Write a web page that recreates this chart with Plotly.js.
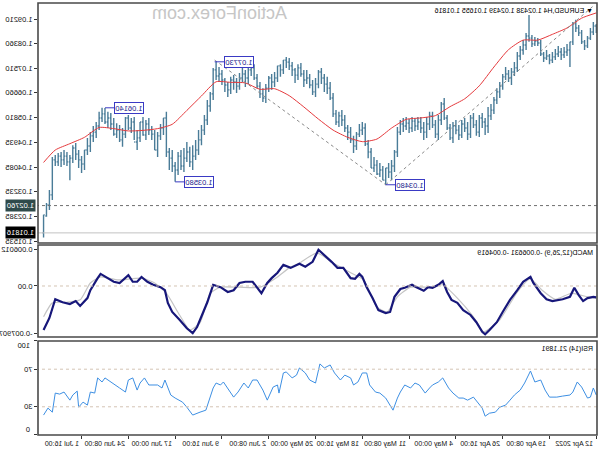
<!DOCTYPE html>
<html><head><meta charset="utf-8">
<script src="https://cdn.plot.ly/plotly-3.0.1.min.js"></script>
<style>html,body{margin:0;padding:0;background:#fff;overflow:hidden}
#wrap{width:600px;height:450px;transform:scaleX(-1);transform-origin:50% 50%}</style>
</head><body><div id="wrap"><div id="chart" style="width:600px;height:450px"></div></div>
<script>
// ---- EURUSD H4 bars (one entry per 2 H4 bars, oldest first) ----
const open = [
1.0883,1.0897,1.0876,1.0855,1.0828,1.0842,1.0873,1.0890,1.0904,1.0842,
1.0814,1.0807,1.0797,1.0807,1.0800,1.0790,1.0779,1.0793,1.0786,1.0800,
1.0838,1.0845,1.0835,1.0855,1.0862,1.0831,1.0814,1.0793,1.0752,1.0738,
1.0717,1.0731,1.0721,1.0689,1.0669,1.0641,1.0606,1.0586,1.0551,1.0565,
1.0579,1.0530,1.0555,1.0579,1.0523,1.0544,1.0558,1.0520,1.0537,1.0551,
1.0510,1.0544,1.0579,1.0627,1.0572,1.0523,1.0555,1.0586,1.0558,1.0530,
1.0544,1.0565,1.0551,1.0568,1.0544,1.0561,1.0551,1.0558,1.0530,1.0461,
1.0413,1.0392,1.0406,1.0364,1.0399,1.0385,1.0416,1.0406,1.0461,1.0489,
1.0544,1.0537,1.0523,1.0482,1.0503,1.0530,1.0544,1.0572,1.0586,1.0565,
1.0593,1.0648,1.0682,1.0696,1.0717,1.0738,1.0696,1.0669,1.0693,1.0717,
1.0710,1.0731,1.0752,1.0727,1.0745,1.0759,1.0772,1.0779,1.0745,1.0759,
1.0717,1.0703,1.0717,1.0682,1.0648,1.0662,1.0689,1.0717,1.0752,1.0745,
1.0717,1.0731,1.0717,1.0689,1.0703,1.0710,1.0676,1.0693,1.0710,1.0731,
1.0724,1.0745,1.0662,1.0620,1.0572,1.0537,1.0503,1.0468,1.0447,1.0427,
1.0461,1.0440,1.0413,1.0447,1.0399,1.0413,1.0440,1.0461,1.0579,1.0544,
1.0517,1.0468,1.0523,1.0537,1.0558,1.0520,1.0565,1.0510,1.0496,1.0565,
1.0544,1.0579,1.0523,1.0503,1.0537,1.0523,1.0558,1.0579,1.0565,1.0593,
1.0579,1.0551,1.0530,1.0517,1.0482,1.0468,1.0420,1.0434,1.0454,1.0475,
1.0440,1.0427,1.0447,1.0434,1.0447,1.0427,1.0434,1.0313,1.0278,1.02438];
const high = [
1.0904,1.0911,1.0890,1.0862,1.0848,1.0883,1.0900,1.0918,1.0911,1.0842,
1.0835,1.0824,1.0821,1.0828,1.0817,1.0807,1.0800,1.0814,1.0807,1.0848,
1.0855,1.0859,1.0866,1.0935,1.0873,1.0848,1.0828,1.0807,1.0772,1.0752,
1.0745,1.0755,1.0731,1.0703,1.0682,1.0651,1.0627,1.0617,1.0579,1.0596,
1.0589,1.0572,1.0596,1.0589,1.0565,1.0579,1.0572,1.0555,1.0572,1.0565,
1.0558,1.0589,1.0648,1.0634,1.0589,1.0572,1.0600,1.0600,1.0582,1.0565,
1.0582,1.0582,1.0579,1.0582,1.0575,1.0582,1.0579,1.0572,1.0548,1.0468,
1.0434,1.0423,1.0406,1.0413,1.0423,1.0434,1.0444,1.0475,1.0503,1.0561,
1.0565,1.0558,1.0530,1.0517,1.0548,1.0555,1.0589,1.0606,1.0600,1.0606,
1.0665,1.0703,1.0721,1.0731,1.0752,1.0745,1.0717,1.0710,1.0731,1.0745,
1.0745,1.0769,1.0765,1.0752,1.0772,1.0786,1.0790,1.0779,1.0765,1.0759,
1.0738,1.0731,1.0724,1.0696,1.0682,1.0703,1.0731,1.0765,1.0769,1.0752,
1.0745,1.0752,1.0734,1.0717,1.0727,1.0721,1.0703,1.0717,1.0745,1.0755,
1.0773,1.0752,1.0669,1.0641,1.0589,1.0555,1.0537,1.0503,1.0485,1.0479,
1.0496,1.0475,1.0468,1.0461,1.0427,1.0468,1.0475,1.0600,1.0579,1.0558,
1.0530,1.0537,1.0551,1.0579,1.0572,1.0582,1.0565,1.0537,1.0582,1.0579,
1.0589,1.0582,1.0544,1.0555,1.0561,1.0579,1.0596,1.0600,1.0613,1.0614,
1.0600,1.0565,1.0551,1.0530,1.0510,1.0468,1.0447,1.0468,1.0492,1.0485,
1.0451,1.0461,1.0468,1.0461,1.0458,1.0451,1.0444,1.0330,1.0285,1.02439];
const low = [
1.0873,1.0866,1.0848,1.0821,1.0814,1.0835,1.0862,1.0876,1.0831,1.0755,
1.0793,1.0786,1.0779,1.0790,1.0779,1.0769,1.0765,1.0779,1.0772,1.0793,
1.0828,1.0828,1.0824,1.0842,1.0814,1.0797,1.0779,1.0738,1.0724,1.0693,
1.0703,1.0710,1.0676,1.0648,1.0627,1.0593,1.0572,1.0527,1.0520,1.0544,
1.0513,1.0517,1.0544,1.0510,1.0503,1.0530,1.0510,1.0503,1.0523,1.0492,
1.0503,1.0537,1.0572,1.0555,1.0503,1.0510,1.0544,1.0537,1.0510,1.0503,
1.0527,1.0537,1.0534,1.0530,1.0527,1.0537,1.0530,1.0520,1.0444,1.0392,
1.0364,1.0371,1.0348,1.0364,1.0375,1.0382,1.0392,1.0406,1.0440,1.0482,
1.0520,1.0513,1.0468,1.0458,1.0492,1.0503,1.0530,1.0551,1.0548,1.0555,
1.0582,1.0641,1.0662,1.0669,1.0696,1.0682,1.0651,1.0658,1.0682,1.0696,
1.0686,1.0721,1.0710,1.0700,1.0724,1.0745,1.0752,1.0731,1.0721,1.0703,
1.0686,1.0676,1.0669,1.0631,1.0634,1.0648,1.0682,1.0710,1.0724,1.0696,
1.0686,1.0703,1.0676,1.0665,1.0676,1.0662,1.0651,1.0669,1.0693,1.0703,
1.0710,1.0641,1.0600,1.0555,1.0520,1.0485,1.0451,1.0434,1.0399,1.0409,
1.0427,1.0392,1.0399,1.0382,1.0358,1.0392,1.0399,1.0444,1.0520,1.0503,
1.0444,1.0468,1.0503,1.0520,1.0503,1.0517,1.0496,1.0468,1.0503,1.0527,
1.0537,1.0510,1.0479,1.0496,1.0510,1.0517,1.0537,1.0544,1.0558,1.0565,
1.0537,1.0510,1.0496,1.0461,1.0451,1.0399,1.0389,1.0406,1.0434,1.0423,
1.0364,1.0413,1.0416,1.0409,1.0413,1.0413,1.0295,1.0261,1.0237,1.01655];
const close = [
1.0897,1.0876,1.0855,1.0828,1.0842,1.0873,1.0890,1.0904,1.0842,1.0814,
1.0807,1.0797,1.0807,1.0800,1.0790,1.0779,1.0793,1.0786,1.0800,1.0838,
1.0845,1.0835,1.0855,1.0862,1.0831,1.0814,1.0793,1.0752,1.0738,1.0717,
1.0731,1.0721,1.0689,1.0669,1.0641,1.0606,1.0586,1.0551,1.0565,1.0579,
1.0530,1.0555,1.0579,1.0523,1.0544,1.0558,1.0520,1.0537,1.0551,1.0510,
1.0544,1.0579,1.0627,1.0572,1.0523,1.0555,1.0586,1.0558,1.0530,1.0544,
1.0565,1.0551,1.0568,1.0544,1.0561,1.0551,1.0558,1.0530,1.0461,1.0413,
1.0392,1.0406,1.0364,1.0399,1.0385,1.0416,1.0406,1.0461,1.0489,1.0544,
1.0537,1.0523,1.0482,1.0503,1.0530,1.0544,1.0572,1.0586,1.0565,1.0593,
1.0648,1.0682,1.0696,1.0717,1.0738,1.0696,1.0669,1.0693,1.0717,1.0710,
1.0731,1.0752,1.0727,1.0745,1.0759,1.0772,1.0779,1.0745,1.0759,1.0717,
1.0703,1.0717,1.0682,1.0648,1.0662,1.0689,1.0717,1.0752,1.0745,1.0717,
1.0731,1.0717,1.0689,1.0703,1.0710,1.0676,1.0693,1.0710,1.0731,1.0724,
1.0745,1.0662,1.0620,1.0572,1.0537,1.0503,1.0468,1.0447,1.0427,1.0461,
1.0440,1.0413,1.0447,1.0399,1.0413,1.0440,1.0461,1.0579,1.0544,1.0517,
1.0468,1.0523,1.0537,1.0558,1.0520,1.0565,1.0510,1.0496,1.0565,1.0544,
1.0579,1.0523,1.0503,1.0537,1.0523,1.0558,1.0579,1.0565,1.0593,1.0579,
1.0551,1.0530,1.0517,1.0482,1.0468,1.0420,1.0434,1.0454,1.0475,1.0440,
1.0427,1.0447,1.0434,1.0447,1.0427,1.0434,1.0313,1.0278,1.0240,1.01816];

// moving average (red)
const maBar = [0,10,20,30,40,50,60,70,80,90,100,110,120,130,140,150,160,170,180,190,200,210,220,230,240,250,260,270,280,290,300,310,320,330,340,350,360,370,378];
const maVal = [1.0942,1.0924,1.0890,1.0868,1.0848,1.0848,1.0815,1.0755,1.0690,1.0645,1.0618,1.0587,1.0579,1.0574,1.0544,1.0506,1.0497,1.0512,1.0537,1.0575,1.0617,1.0656,1.0680,1.0678,1.0700,1.0702,1.0704,1.0655,1.0605,1.0557,1.0542,1.0536,1.0534,1.0542,1.0546,1.0512,1.0490,1.0468,1.0425];

// trend lines
const trend1Bar = [261,144], trend1Price = [1.0779,1.0348];
const trend2Bar = [144,2],   trend2Price = [1.0348,1.0966];

// swing labels
const swingText  = ['1.07730','1.06140','1.03580','1.03480'];
const swingBar   = [261,336,288,144];
const swingPrice = [1.0773,1.0614,1.0358,1.0348];

// horizontal level
const levelPrice = 1.02760;

// MACD(12,26,9)
const macdBar = [0,2,6,9,12,15,18,23,30,34,38,43,45,50,54,59,64,68,73,76,78,82,86,91,95,99,102,105,108,112,115,118,123,126,131,134,138,141,144,149,153,157,160,162,165,168,173,177,181,186,190,194,199,203,205,209,214,218,222,225,229,232,235,240,244,248,252,257,262,266,270,273,276,280,285,290,293,295,298,303,307,311,314,317,320,324,326,330,335,339,341,346,348,353,356,360,365,370,374,378];
const macdMain = [-0.0019,-0.0018,-0.0020,-0.0025,-0.0015,-0.0003,-0.0018,-0.0022,-0.0025,-0.0022,-0.0012,0.0005,0.0015,0.0007,-0.0007,-0.0023,-0.0043,-0.0060,-0.0073,-0.0080,-0.0076,-0.0060,-0.0048,-0.0040,-0.0028,-0.0023,-0.0010,0.0008,0.0002,-0.0003,-0.0002,-0.0008,-0.0002,0.0002,-0.0003,-0.0005,-0.0018,-0.0043,-0.0045,-0.0040,-0.0020,-0.0002,0.0015,0.0020,0.0012,0.0013,0.0030,0.0030,0.0040,0.0051,0.0060,0.0040,0.0032,0.0037,0.0035,0.0030,0.0035,0.0022,0.0013,0.0005,-0.0012,-0.0003,0.0007,0.0007,0.0005,-0.0007,-0.0010,-0.0002,0.0002,-0.0027,-0.0051,-0.0068,-0.0078,-0.0070,-0.0056,-0.0043,-0.0028,-0.0007,-0.0002,0.0002,0.0007,0.0015,0.0007,0.0007,0.0018,0.0010,0.0005,0.0007,0.0015,0.0020,0.0013,-0.0007,-0.0020,-0.0033,-0.0025,-0.0030,-0.0027,-0.0022,-0.0053,-0.0073];
const sigBar = [0,6,17,28,37,45,54,66,77,84,95,105,112,127,136,143,150,159,168,180,191,203,210,218,230,244,257,264,271,278,285,294,302,311,327,339,346,353,362,372,378];
const sigVal = [-0.0020,-0.0018,-0.0012,-0.0022,-0.0007,0.0012,-0.0010,-0.0056,-0.0076,-0.0051,-0.0020,0.0002,-0.0002,-0.0002,-0.0018,-0.0043,-0.0035,0.0010,0.0022,0.0038,0.0055,0.0038,0.0030,0.0015,-0.0002,-0.0002,-0.0002,-0.0012,-0.0061,-0.0073,-0.0048,-0.0012,0.0005,0.0013,0.0010,0.0015,0.0005,-0.0023,-0.0027,-0.0028,-0.0051];
const macdHeader = ['-0.006631','-0.004619'];

// RSI(14)
const rsiBar = [0,2,4,6,10,13,16,18,23,27,32,35,38,42,45,49,52,56,59,62,66,69,73,76,78,82,84,88,91,94,98,101,105,108,112,114,117,121,124,127,131,134,136,139,141,144,148,151,155,157,160,163,166,168,172,175,179,182,186,189,192,196,199,203,205,208,212,214,217,218,221,225,228,232,235,238,241,245,248,252,255,257,260,262,265,267,271,276,280,283,288,291,295,297,300,306,309,312,314,317,320,322,326,329,332,336,338,341,343,346,348,351,354,355,358,360,364,367,370,372,375,378];
const rsiVal = [42.5,50,40.3,39.3,51,56.4,45.7,42.5,41.4,40.3,40.3,47.8,58.5,56.4,68.1,55.3,47.8,42.5,37.1,31.8,29.6,24.3,23.2,20,28.6,37.1,40.3,37.1,39.3,39.3,44.6,50,60.7,56.4,53.2,50,44.6,53.2,55.3,50,53.2,45.7,39.3,26.4,31.8,39.3,44.6,45.7,53.2,66,66,56.4,53.2,60.7,63.7,58.5,66,74.5,71.3,75.6,55.3,58.5,66,71.3,63.7,60.7,67.1,66,44.6,53.2,51,37.1,47.8,58.5,58.5,50,55.3,45.7,40.3,50,56.4,53.2,55.3,50,37.1,26.4,24.3,21.2,29.6,35,39.3,42.5,58.5,50,53.2,53.2,60.7,55.3,47.8,60.7,58.5,45.7,50,53.2,56.4,60.7,56.4,60.7,44.6,45.7,31.8,35,29.6,46.7,42.5,37.1,45.7,43.5,44.6,24.3,28.6,21.2];
const rsiHeader = '21.1891';

// axis ticks
const timeBars = [0,32,64,96,128,160,192,224,256,288,320,352];
const timeLabels = ['12 Apr 2022','19 Apr 08:00','26 Apr 16:00','4 May 00:00','11 May 08:00','18 May 16:00','26 May 00:00','2 Jun 08:00','9 Jun 16:00','17 Jun 00:00','24 Jun 08:00','1 Jul 16:00'];
const priceTicks = [1.09210,1.08360,1.07510,1.06660,1.05810,1.04935,1.04085,1.03235,1.02385,1.01535];
const macdTicks = [0.006012,0,-0.007907];
const macdTickText = ['0.006012','0.00','-0.007907'];
const rsiTicks = [100,70,30,0];

// ---------------- drawing ----------------
const barIdx = open.map((_, i) => i * 2);
const last = open.length - 1;
const BAR = '#4a7c98';
const FONT = '"Liberation Sans", Arial, "DejaVu Sans", sans-serif';

const traces = [
  {type:'ohlc', x:barIdx, open:open, high:high, low:low, close:close, xaxis:'x', yaxis:'y',
   increasing:{line:{color:BAR, width:1.4}}, decreasing:{line:{color:BAR, width:1.4}},
   tickwidth:0.4, hoverinfo:'skip'},
  {type:'scatter', mode:'lines', x:maBar, y:maVal, xaxis:'x', yaxis:'y',
   line:{color:'#e5393c', width:1, shape:'spline', smoothing:0.6}, hoverinfo:'skip'},
  {type:'scatter', mode:'lines', x:trend1Bar, y:trend1Price, xaxis:'x', yaxis:'y',
   line:{color:'#8a8a8a', width:1, dash:'3px,3px'}, hoverinfo:'skip'},
  {type:'scatter', mode:'lines', x:trend2Bar, y:trend2Price, xaxis:'x', yaxis:'y',
   line:{color:'#8a8a8a', width:1, dash:'3px,3px'}, hoverinfo:'skip'},
  {type:'scatter', mode:'lines', x:sigBar, y:sigVal, xaxis:'x', yaxis:'y2',
   line:{color:'#c4c4c4', width:1.2, shape:'spline', smoothing:0.5}, hoverinfo:'skip'},
  {type:'scatter', mode:'lines', x:macdBar, y:macdMain, xaxis:'x', yaxis:'y2',
   line:{color:'#17177a', width:2.2}, hoverinfo:'skip'},
  {type:'scatter', mode:'lines', x:rsiBar, y:rsiVal, xaxis:'x', yaxis:'y3',
   line:{color:'#3d8fe3', width:1}, hoverinfo:'skip'}
];

const TICKFONT = {family:FONT, size:7.5, color:'#111'};
const yCommon = {side:'right', anchor:'x', ticks:'outside', ticklen:3, tickcolor:'#333',
  showgrid:false, zeroline:false, showline:false, fixedrange:true, tickfont:TICKFONT};

const frame = (ref) => ({type:'rect', xref:'paper', yref:ref, x0:0, x1:1, y0:0, y1:1,
  line:{color:'#4a4a4a', width:1.6}, fillcolor:'rgba(0,0,0,0)'});

const shapes = [
  {type:'line', xref:'paper', x0:0, x1:1, yref:'y', y0:levelPrice, y1:levelPrice, line:{color:'#6f6f6f', width:1, dash:'dot'}},
  {type:'line', xref:'paper', x0:0, x1:1, yref:'y', y0:close[last], y1:close[last], line:{color:'#c2c2c2', width:1}},
  {type:'line', xref:'paper', x0:0, x1:1, yref:'y2', y0:0, y1:0, line:{color:'#d4c4b4', width:1, dash:'dot'}},
  {type:'line', xref:'paper', x0:0, x1:1, yref:'y3', y0:70, y1:70, line:{color:'#d4c4b4', width:1, dash:'dot'}},
  {type:'line', xref:'paper', x0:0, x1:1, yref:'y3', y0:30, y1:30, line:{color:'#d4c4b4', width:1, dash:'dot'}},
  frame('y domain'), frame('y2 domain'), frame('y3 domain')
];

const annotations = [
  {xref:'paper', yref:'paper', x:0, y:1, xanchor:'left', yanchor:'top', xshift:2, yshift:-2, showarrow:false,
   text:'▼ EURUSD,H4 ' + [open[last], high[last], low[last], close[last]].map(v => v.toFixed(5)).join(' '),
   font:{family:FONT, size:7, color:'#000'}},
  {xref:'paper', yref:'paper', x:0.676, y:0.977, xanchor:'center', yanchor:'middle', showarrow:false,
   text:'ActionForex.com', font:{family:FONT, size:18, color:'#c6c6c6'}},
  {xref:'paper', yref:'y2 domain', x:0, y:1, xanchor:'left', yanchor:'top', xshift:2, yshift:-2, showarrow:false,
   text:'MACD(12,26,9) ' + macdHeader.join(' '), font:{family:FONT, size:7, color:'#000'}},
  {xref:'paper', yref:'y3 domain', x:0, y:1, xanchor:'left', yanchor:'top', xshift:2, yshift:-2, showarrow:false,
   text:'RSI(14) ' + rsiHeader, font:{family:FONT, size:7, color:'#000'}},
  {xref:'paper', yref:'y', x:1, y:levelPrice, xanchor:'left', yanchor:'middle', xshift:2, showarrow:false,
   text:levelPrice.toFixed(5), bgcolor:'#2f4a4a', borderpad:1, font:{family:FONT, size:7.5, color:'#fff'}},
  {xref:'paper', yref:'y', x:1, y:close[last], xanchor:'left', yanchor:'middle', xshift:2, showarrow:false,
   text:close[last].toFixed(5), bgcolor:'#000', borderpad:1, font:{family:FONT, size:7.5, color:'#fff'}},
  // RSI edge labels drawn just inside the window edges, as the terminal does
  {xref:'paper', yref:'y3', x:1, y:rsiTicks[0], xanchor:'left', yanchor:'middle', xshift:6, yshift:-5,
   showarrow:false, text:String(rsiTicks[0]), font:TICKFONT},
  {xref:'paper', yref:'y3', x:1, y:rsiTicks[3], xanchor:'left', yanchor:'middle', xshift:6, yshift:5,
   showarrow:false, text:String(rsiTicks[3]), font:TICKFONT}
];
// time labels (left-aligned on their tick, as the terminal draws them)
timeBars.forEach((b, i) => annotations.push({
  xref:'x', yref:'paper', x:b, y:0, xanchor:'left', yanchor:'top', xshift:1, yshift:-3,
  showarrow:false, text:timeLabels[i], font:{family:FONT, size:7, color:'#111'}
}));
swingText.forEach((t, i) => annotations.push({
  xref:'x', yref:'y', x:swingBar[i], y:swingPrice[i], text:t,
  showarrow:true, arrowhead:0, arrowwidth:1, arrowcolor:'#3a3ac4', ax:-24, ay:0,
  bgcolor:'#fff', bordercolor:'#3a3ac4', borderwidth:1, borderpad:0.5,
  font:{family:FONT, size:7.5, color:'#1c1c8c'}
}));

const layout = {
  width:600, height:450,
  margin:{l:3, r:38, t:3, b:15, pad:0},
  paper_bgcolor:'#fff', plot_bgcolor:'#fff',
  showlegend:false, hovermode:false, dragmode:false,
  font:{family:FONT, size:7.5, color:'#111'},
  xaxis:{range:[-0.5,381.8], anchor:'y3', tickmode:'array', tickvals:timeBars, showticklabels:false,
    ticks:'outside', ticklen:3, tickcolor:'#333',
    showgrid:false, zeroline:false, showline:false, fixedrange:true,
    rangeslider:{visible:false}},
  yaxis:Object.assign({}, yCommon, {domain:[0.4444,1], range:[1.01466,1.09763],
    tickmode:'array', tickvals:priceTicks, ticktext:priceTicks.map(v => v.toFixed(5))}),
  yaxis2:Object.assign({}, yCommon, {domain:[0.2269,0.4398], range:[-0.00845,0.00679],
    tickmode:'array', tickvals:macdTicks, ticktext:macdTickText}),
  yaxis3:Object.assign({}, yCommon, {domain:[0,0.2176], range:[0,100],
    tickmode:'array', tickvals:rsiTicks, ticktext:rsiTicks.map((v, i) => (i === 0 || i === 3) ? '' : String(v))}),
  shapes:shapes, annotations:annotations
};

Plotly.newPlot('chart', traces, layout, {staticPlot:true, displayModeBar:false});
</script></body></html>
